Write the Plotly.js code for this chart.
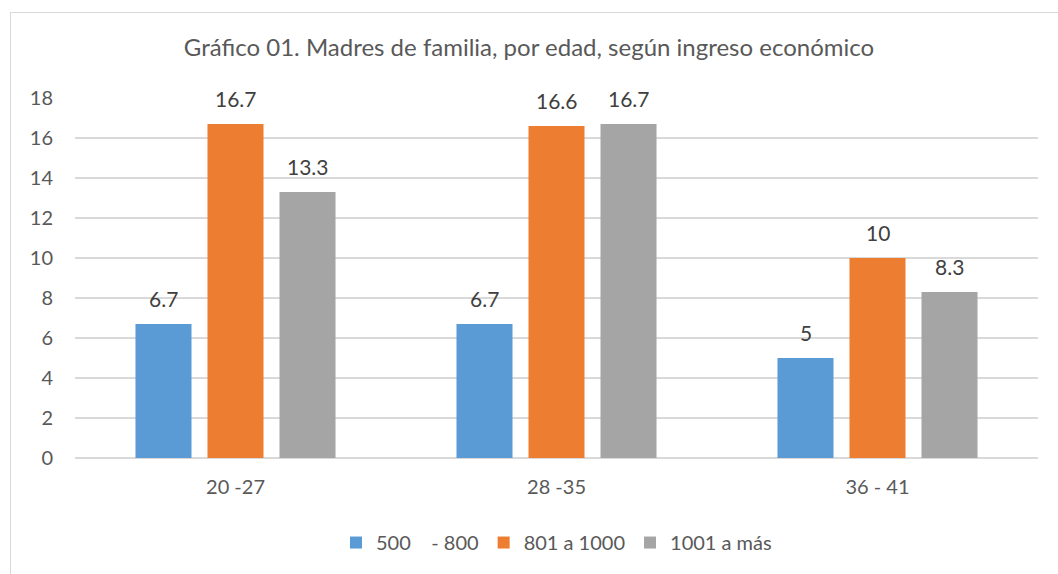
<!DOCTYPE html>
<html>
<head>
<meta charset="utf-8">
<script src="https://cdn.plot.ly/plotly-3.0.1.min.js"></script>
<style>
html,body{margin:0;padding:0;background:#fff;overflow:hidden;}
#frame{position:absolute;left:10px;top:12px;width:1100px;height:620px;border:1.5px solid #d9d9d9;box-sizing:border-box;}
#chart{position:absolute;left:0;top:0;width:1058px;height:574px;}
</style>
</head>
<body>
<div id="frame"></div>
<div id="chart"></div>
<script>
var categories = ["20 -27", "28 -35", "36 - 41"];
var seriesNames = ["500 &nbsp;&nbsp; - 800", "801 a 1000", "1001 a más"];
var s1 = [6.7, 6.7, 5];
var s2 = [16.7, 16.6, 10];
var s3 = [13.3, 16.7, 8.3];
var yTicks = [0, 2, 4, 6, 8, 10, 12, 14, 16, 18];
var colors = ["#5B9BD5", "#ED7D31", "#A5A5A5"];
var font = "Lato, 'Open Sans', sans-serif";
var series = [s1, s2, s3];

var data = series.map(function(v, i){
  return {
    type: "bar", x: categories, y: v, name: seriesNames[i],
    marker: {color: colors[i]},
    hoverinfo: "skip"
  };
});

// data labels, placed above each bar (offset by the bar slot within the group)
var annotations = [];
series.forEach(function(v, i){
  v.forEach(function(val, j){
    annotations.push({
      x: categories[j], y: val, xref: "x", yref: "y",
      text: String(val), showarrow: false,
      xanchor: "center", yanchor: "middle",
      xshift: (i - 1) * 72, yshift: 26,
      font: {family: font, size: 21, color: "#404040"}
    });
  });
});

var layout = {
  width: 1058, height: 574,
  margin: {l: 75, r: 20, t: 98, b: 114},
  paper_bgcolor: "rgba(0,0,0,0)", plot_bgcolor: "rgba(0,0,0,0)",
  barmode: "group", bargap: 0.327, bargroupgap: 0.222,
  title: {text: "Gráfico 01. Madres de familia, por edad, según ingreso económico",
    font: {family: font, size: 24, color: "#595959"},
    x: 0.5, xanchor: "center", y: 1 - 48/574, yanchor: "middle", yref: "container"},
  xaxis: {type: "category", showgrid: false, showline: false, zeroline: false,
    ticks: "", tickfont: {family: font, size: 20, color: "#595959"}, ticklabelstandoff: 15},
  yaxis: {range: [0, 18], tickvals: yTicks, ticktext: yTicks.map(String),
    showgrid: true, gridcolor: "#d9d9d9", gridwidth: 1.3, zeroline: true, zerolinecolor: "#d9d9d9", zerolinewidth: 1.3,
    showline: false, ticks: "", tickfont: {family: font, size: 20, color: "#595959"}, ticklabelstandoff: 21},
  annotations: annotations,
  showlegend: true,
  legend: {orientation: "h", x: 0.5, xanchor: "center", y: (460-545)/362, yanchor: "middle",
    font: {family: font, size: 20, color: "#595959"}, itemwidth: 30, traceorder: "normal"},
  font: {family: font}
};

Plotly.newPlot("chart", data, layout, {displayModeBar: false, staticPlot: true});
</script>
</body>
</html>
